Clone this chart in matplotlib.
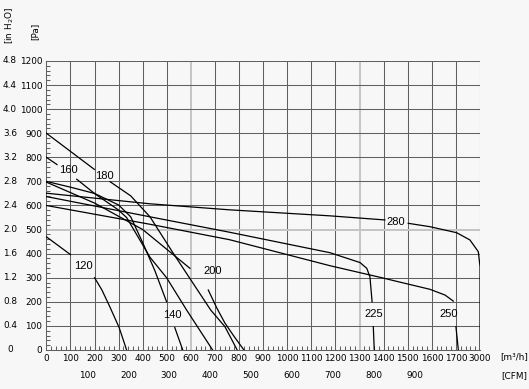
import matplotlib.pyplot as plt
import numpy as np

# fan curves, x = position on the flow axis [m3/h] (last tick is drawn as 3000), y = pressure [Pa]
# nan marks the gap left for the curve label
nan = np.nan
q120 = [0, 100, nan, 200, 230, 264, 302, 333]
p120 = [470, 396, nan, 300, 250, 178, 93, 0]
q140 = [0, 100, 200, 300, 350, 400, 450, 499, nan, 533, 566]
p140 = [700, 676, 650, 602, 553, 445, 330, 200, nan, 93, 0]
q160 = [0, 44, nan, 126, 202, 297, 333, 389, 430, 499, 582, 690]
p160 = [800, 770, nan, 709, 648, 583, 550, 455, 385, 300, 166, 0]
q180 = [0, 199, nan, 264, 350, 430, 527, 620, 682, 741, 792]
p180 = [900, 750, nan, 699, 640, 553, 401, 260, 166, 97, 0]
q200 = [0, 200, 400, 596, nan, 672, 707, 741, 780, 820]
p200 = [697, 610, 500, 339, nan, 249, 175, 112, 55, 0]
q225 = [0, 430, 760, 1177, 1302, 1330, 1343, 1352, nan, 1357, 1361]
p225 = [637, 553, 489, 404, 363, 339, 304, 200, nan, 97, 0]
q250 = [0, 430, 760, 1177, 1401, 1454, 1592, 1655, 1689, nan, 1700, 1710]
p250 = [600, 522, 458, 350, 298, 285, 252, 228, 203, nan, 97, 0]
q280 = [0, 430, 760, 1177, 1405, nan, 1502, 1592, 1703, 1758, 1793, 1800, 1800]
p280 = [651, 607, 582, 557, 540, nan, 526, 512, 487, 457, 408, 346, 0]

curves = [(q120, p120), (q140, p140), (q160, p160), (q180, p180),
          (q200, p200), (q225, p225), (q250, p250), (q280, p280)]
curve_names = ['120', '140', '160', '180', '200', '225', '250', '280']
label_q = [152, 521, 90, 241, 692, 1359, 1671, 1451]
label_p = [349, 145, 748, 723, 328, 150, 150, 532]

flow_ticks = list(range(0, 1900, 100))
flow_labels = [str(v) for v in range(0, 1800, 100)] + ['3000']
pa_ticks = list(range(0, 1300, 100))
inh2o_labels = ['0', '0.4', '0.8', '1.2', '1.6', '2.0', '2.4', '2.8', '3.2', '3.6', '4.0', '4.4', '4.8']
cfm_values = [100, 200, 300, 400, 500, 600, 700, 800, 900]

bg = '#f7f7f7'
fs = 6.4
fig = plt.figure(figsize=(5.29, 3.89), dpi=100, facecolor=bg)
ax = fig.add_axes([0.0877, 0.1003, 0.8197, 0.7429], facecolor=bg)

ax.set_xlim(0, 1800)
ax.set_ylim(0, 1200)

# grid
for v in flow_ticks[1:]:
    light = v in (600, 1300)
    ax.axvline(v, color='#c4c4c4' if light else '#606060', lw=1.4 if light else 0.75, zorder=1)
for v in pa_ticks[1:]:
    light = v == 500
    ax.axhline(v, color='#c4c4c4' if light else '#606060', lw=1.4 if light else 0.75, zorder=1)

for (q, p) in curves:
    ax.plot(q, p, color='black', lw=0.9, zorder=3)
for name, lq, lp in zip(curve_names, label_q, label_p):
    ax.text(lq, lp, name, ha='center', va='center', fontsize=8,
            family='Liberation Sans', zorder=4)

for s in ['top', 'right']:
    ax.spines[s].set_visible(False)
for s in ['left', 'bottom']:
    ax.spines[s].set_color('#606060')
    ax.spines[s].set_linewidth(0.75)

ax.set_xticks(flow_ticks)
ax.set_xticklabels(flow_labels, fontsize=fs)
ax.set_xticks(np.arange(0, 1801, 20), minor=True)
ax.set_yticks(pa_ticks)
ax.set_yticklabels([str(v) for v in pa_ticks], fontsize=fs)
ax.set_yticks(np.arange(0, 1201, 20), minor=True)
ax.tick_params(which='both', direction='in', color='#606060', width=0.75)
ax.tick_params(which='major', length=0, pad=3)
ax.tick_params(which='minor', length=3)
ax.tick_params(axis='y', which='major', pad=3)

# inch of water column
for v, lab in zip(pa_ticks, inh2o_labels):
    ax.annotate(lab, xy=(0, v), xycoords='data', xytext=(-36.4, 0),
                textcoords='offset pixels', ha='center', va='center', fontsize=fs)
# CFM row
for c in cfm_values:
    ax.annotate(str(c), xy=(c * 1.699, 0), xycoords='data', xytext=(0, -26),
                textcoords='offset pixels', ha='center', va='center', fontsize=fs)

fig.text(500 / 529, 1 - 357 / 389, '[m³/h]', ha='left', va='center', fontsize=fs)
fig.text(501 / 529, 1 - 376 / 389, '[CFM]', ha='left', va='center', fontsize=fs)
fig.text(10 / 529, 1 - 25 / 389, '[in H$_2$O]', rotation=90, ha='center', va='center', fontsize=fs)
fig.text(35 / 529, 1 - 31 / 389, '[Pa]', rotation=90, ha='center', va='center', fontsize=fs)

fig.savefig('out.png', dpi=100, facecolor=bg)
